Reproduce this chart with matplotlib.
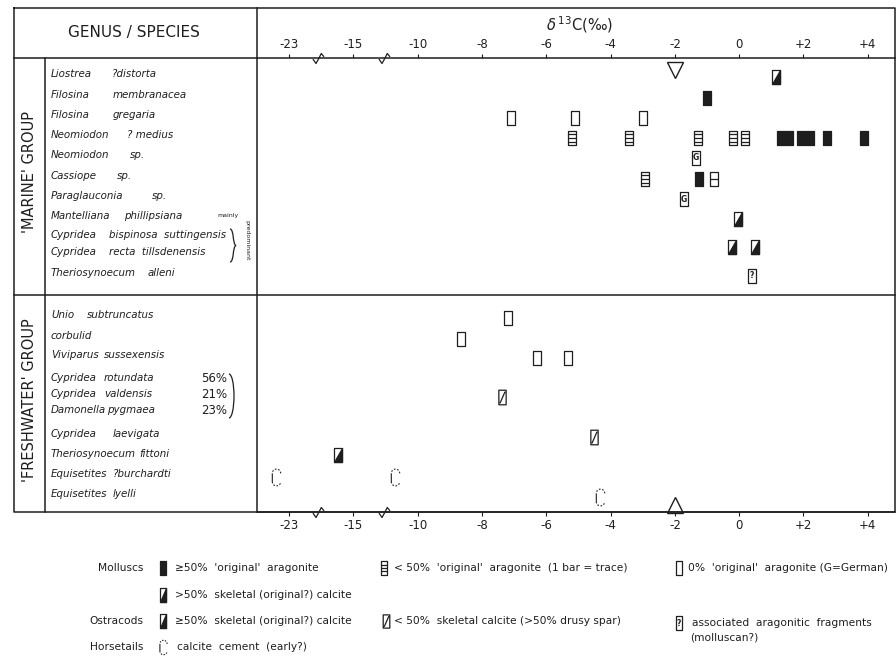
import numpy as np
import matplotlib
matplotlib.use('Agg')
import matplotlib.pyplot as plt
from matplotlib.path import Path
from matplotlib.patches import Arc, PathPatch

# ---- data -------------------------------------------------------------
marine_genus = ['Liostrea', 'Filosina', 'Filosina', 'Neomiodon', 'Neomiodon', 'Cassiope',
                'Paraglauconia', 'Mantelliana', 'Cypridea', 'Cypridea', 'Theriosynoecum']
marine_species = ['?distorta', 'membranacea', 'gregaria', '? medius', 'sp.', 'sp.',
                  'sp.', 'phillipsiana', 'bispinosa  suttingensis', 'recta  tillsdenensis', 'alleni']
fresh_genus = ['Unio', 'corbulid', 'Viviparus', 'Cypridea', 'Cypridea', 'Damonella',
               'Cypridea', 'Theriosynoecum', 'Equisetites', 'Equisetites']
fresh_species = ['subtruncatus', '', 'sussexensis', 'rotundata', 'valdensis', 'pygmaea',
                 'laevigata', 'fittoni', '?burchardti', 'lyelli']
fresh_pct = ['', '', '', '56%', '21%', '23%', '', '', '', '']

# (row, delta13C) for each symbol type
arag_high = [('Filosina membranacea', -1.0), ('Neomiodon ? medius', 1.29), ('Neomiodon ? medius', 1.56),
             ('Neomiodon ? medius', 1.93), ('Neomiodon ? medius', 2.21), ('Neomiodon ? medius', 2.74),
             ('Neomiodon ? medius', 3.89), ('Cassiope sp.', -1.24)]
arag_low = [('Neomiodon ? medius', -5.2), ('Neomiodon ? medius', -3.42), ('Neomiodon ? medius', -1.28),
            ('Neomiodon ? medius', -0.19), ('Neomiodon ? medius', 0.19), ('Cassiope sp.', -2.92)]
arag_trace = [('Cassiope sp.', -0.78)]
arag_none = [('Filosina gregaria', -7.09), ('Filosina gregaria', -5.1), ('Filosina gregaria', -2.99),
             ('Unio subtruncatus', -7.19), ('corbulid', -8.65),
             ('Viviparus sussexensis', -6.28), ('Viviparus sussexensis', -5.32)]
german = [('Neomiodon sp.', -1.35), ('Paraglauconia sp.', -1.71)]
skel_calcite = [('Liostrea ?distorta', 1.15), ('Mantelliana phillipsiana', -0.05),
                ('bispinosa/recta', -0.23), ('bispinosa/recta', 0.5),
                ('Theriosynoecum fittoni', -16.9)]
skel_low = [('rotundata group', -7.37), ('Cypridea laevigata', -4.51)]
fragments = [('Theriosynoecum alleni', 0.4)]
cement = [('Equisetites ?burchardti', -24.6), ('Equisetites ?burchardti', -11.8),
          ('Equisetites lyelli', -4.32)]
ref_value = -2.0

tick_vals = [-23, -15, -10, -8, -6, -4, -2, 0, 2, 4]
tick_labels = ['-23', '-15', '-10', '-8', '-6', '-4', '-2', '0', '+2', '+4']

# ---- layout (pixel coordinates of the 896x657 page) -------------------
marine_y = [74, 95, 115, 135, 155, 176, 196, 216, 235, 252, 273]
marine_sx = [112, 113, 113, 127, 130, 117, 152, 124, 109, 109, 148]
fresh_y = [315, 336, 355, 378, 394, 410, 434, 454, 474, 494]
fresh_sx = [87, 87, 104, 104, 104, 107, 113, 139, 113, 113]

row_y = {}
for g, s, y in zip(marine_genus + fresh_genus, marine_species + fresh_species, marine_y + fresh_y):
    row_y[(g + ' ' + s).strip()] = y + 3
row_y['bispinosa/recta'] = (marine_y[8] + marine_y[9]) / 2 + 3
row_y['rotundata group'] = fresh_y[4] + 3
row_y['Theriosynoecum fittoni'] = fresh_y[7] + 1

plt.rcParams['font.family'] = ['DejaVu Sans']
ink = '#1e1e1e'

fig = plt.figure(figsize=(8.96, 6.57), dpi=100)
bg = fig.add_axes([0, 0, 1, 1])
bg.set_xlim(0, 896)
bg.set_ylim(657, 0)
bg.axis('off')

L, R, T, B = 14, 895, 8, 512
HEAD, SPLIT, COL1, COL2 = 58, 295, 45, 257
lw = 1.1
bg.plot([L, R, R, L, L], [T, T, B, B, T], color=ink, lw=lw)
bg.plot([L, COL2], [HEAD, HEAD], color=ink, lw=lw)
bg.plot([COL2, COL2], [T, B], color=ink, lw=lw)
bg.plot([COL1, COL1], [HEAD, B], color=ink, lw=lw)
bg.plot([L, R], [SPLIT, SPLIT], color=ink, lw=lw)

bg.text(134, 32, 'GENUS / SPECIES', ha='center', va='center', fontsize=11, color=ink)
bg.text(30, 172, "'MARINE' GROUP", rotation=90, ha='center', va='center', fontsize=10.5, color=ink)
bg.text(30, 400, "'FRESHWATER' GROUP", rotation=90, ha='center', va='center', fontsize=10.5, color=ink)

for g, s, y, sx in zip(marine_genus + fresh_genus, marine_species + fresh_species,
                       marine_y + fresh_y, marine_sx + fresh_sx):
    bg.text(51, y, g, ha='left', va='center', fontsize=7.4, style='italic', color=ink)
    if s:
        bg.text(sx, y, s, ha='left', va='center', fontsize=7.4, style='italic', color=ink)
for p, y in zip(fresh_pct, fresh_y):
    if p:
        bg.text(227, y, p, ha='right', va='center', fontsize=8.5, color=ink)

bg.text(228, marine_y[7], 'mainly', ha='center', va='center', fontsize=4.5, color=ink)
bg.text(247, 240, 'predominant', rotation=270, ha='center', va='center', fontsize=4.5, color=ink)


def brace(x, y0, y1, w):
    ym = (y0 + y1) / 2
    verts = [(x, y0), (x + w * 0.7, y0), (x + w * 0.4, ym - 1), (x + w, ym),
             (x + w * 0.4, ym + 1), (x + w * 0.7, y1), (x, y1)]
    codes = [Path.MOVETO] + [Path.CURVE4] * 6
    bg.add_patch(PathPatch(Path(verts, codes), fc='none', ec=ink, lw=0.9))


brace(230, 229, 262, 6)
bg.add_patch(Arc((229, 396), 10, 44, theta1=-90, theta2=90, color=ink, lw=0.9))

# ---- marker shapes -----------------------------------------------------
M, LN, C = Path.MOVETO, Path.LINETO, Path.CLOSEPOLY
box_v = [(-0.5, -1), (0.5, -1), (0.5, 1), (-0.5, 1), (-0.5, -1)]
box_c = [M, LN, LN, LN, C]


def boxed(extra):
    v, c = list(box_v), list(box_c)
    for a, b in extra:
        v += [a, b]
        c += [M, LN]
    return Path(v, c)


box = Path(box_v, box_c)
bars3 = boxed([((-0.5, -0.5), (0.5, -0.5)), ((-0.5, 0), (0.5, 0)), ((-0.5, 0.5), (0.5, 0.5))])
bars1 = boxed([((-0.5, 0), (0.5, 0))])
slash = boxed([((-0.35, -0.8), (0.35, 0.8))])
half = Path([(-0.5, -1), (0.5, -1), (0.5, 1), (-0.5, -1)], [M, LN, LN, C])

t = np.linspace(0, 2 * np.pi, 97)
sx_ = 0.5 * np.cos(t)
sy_ = np.where(np.sin(t) >= 0, 0.5 + 0.5 * np.sin(t), -0.5 + 0.5 * np.sin(t))
dv, dc = [], []
for k in range(0, 96, 12):
    seg = list(zip(sx_[k:k + 7], sy_[k:k + 7]))
    dv += seg
    dc += [M] + [LN] * (len(seg) - 1)
dashed = Path(dv, dc)


def draw(axis, xs, ys, kind, ms=10.5):
    kw = dict(ls='none', mec=ink, mew=0.9, ms=ms, clip_on=False)
    if kind == 'high':
        axis.plot(xs, ys, marker=box, mfc=ink, **kw)
    elif kind == 'low':
        axis.plot(xs, ys, marker=bars3, mfc='white', **kw)
    elif kind == 'trace':
        axis.plot(xs, ys, marker=bars1, mfc='white', **kw)
    elif kind in ('none', 'german', 'frag'):
        axis.plot(xs, ys, marker=box, mfc='white', **kw)
        sym = {'german': 'G', 'frag': '?', 'none': ''}[kind]
        if sym:
            for x, y in zip(xs, ys):
                axis.text(x, y, sym, ha='center', va='center', fontsize=5.5,
                          fontweight='bold', color=ink)
    elif kind == 'skel':
        axis.plot(xs, ys, marker=box, mfc='white', **kw)
        axis.plot(xs, ys, marker=half, mfc=ink, **kw)
    elif kind == 'slash':
        axis.plot(xs, ys, marker=slash, mfc='white', **kw)
    elif kind == 'cement':
        kw['mew'] = 0.8
        kw['ms'] = ms * 1.15
        axis.plot(xs, ys, marker=dashed, mfc='none', **kw)


# ---- data panel with broken delta13C axis -------------------------------
def fwd(x):
    x = np.asarray(x, float)
    return np.where(x >= -10, x, np.where(x >= -15, -10 + (x + 10) * 0.4, -12 + (x + 15) * 0.25))


def inv(p):
    p = np.asarray(p, float)
    return np.where(p >= -10, p, np.where(p >= -12, -10 + (p + 10) / 0.4, -15 + (p + 12) / 0.25))


ax = fig.add_axes([COL2 / 896, 1 - B / 657, (R - COL2) / 896, (B - HEAD) / 657])
ax.set_xscale('function', functions=(fwd, inv))
ax.set_xlim(-27, 4.85)
ax.set_ylim(B, HEAD)
ax.patch.set_visible(False)
for side in ('left', 'right'):
    ax.spines[side].set_visible(False)
for side in ('top', 'bottom'):
    ax.spines[side].set_linewidth(lw)
    ax.spines[side].set_color(ink)
ax.set_yticks([])
ax.set_xticks(tick_vals)
ax.set_xticklabels(tick_labels)
ax.xaxis.set_minor_locator(matplotlib.ticker.NullLocator())
ax.tick_params(axis='x', top=True, labeltop=True, bottom=True, labelbottom=True,
               direction='out', length=3, width=0.8, pad=2, labelsize=8.5, colors=ink)

ax.text(-4.95, 25, r'$\delta^{\,13}$C(‰)', ha='center', va='center',
        fontsize=10.5, color=ink, clip_on=False)

brk = Path([(-1, -0.1), (-0.45, -0.9), (0.05, 0.0), (0.5, 0.9), (1, 0.3)], [M, LN, LN, LN, LN])
for bx in (-19.4, -12.6):
    ax.plot([bx, bx], [HEAD, B], ls='none', marker=brk, ms=8, mfc='none', mec=ink, mew=0.9,
            clip_on=False)

for data, kind in [(arag_high, 'high'), (arag_low, 'low'), (arag_trace, 'trace'),
                   (arag_none, 'none'), (german, 'german'), (skel_calcite, 'skel'),
                   (skel_low, 'slash'), (fragments, 'frag'), (cement, 'cement')]:
    xs = [v for _, v in data]
    ys = [row_y[r] for r, _ in data]
    draw(ax, xs, ys, kind)

ax.plot([ref_value], [69.5], ls='none', marker='v', ms=11, mfc='none', mec=ink, mew=1, clip_on=False)
ax.plot([ref_value], [505], ls='none', marker='^', ms=11, mfc='none', mec=ink, mew=1, clip_on=False)

# ---- legend --------------------------------------------------------------
fs = 7.7
rows_leg = [568, 595, 621, 647]
for name, y in zip(['Molluscs', 'Ostracods', 'Horsetails'], [rows_leg[0], rows_leg[2], rows_leg[3]]):
    bg.text(143, y, name, ha='right', va='center', fontsize=fs, color=ink)

draw(bg, [163], [rows_leg[0]], 'high', 9.5)
bg.text(175, rows_leg[0], "≥50%  'original'  aragonite", va='center', fontsize=fs, color=ink)
draw(bg, [384], [rows_leg[0]], 'low', 9.5)
bg.text(394, rows_leg[0], "< 50%  'original'  aragonite  (1 bar = trace)", va='center', fontsize=fs, color=ink)
draw(bg, [679], [rows_leg[0]], 'none', 9.5)
bg.text(688, rows_leg[0], "0%  'original'  aragonite (G=German)", va='center', fontsize=fs, color=ink)

draw(bg, [163], [rows_leg[1]], 'skel', 9.5)
bg.text(175, rows_leg[1], ">50%  skeletal (original?) calcite", va='center', fontsize=fs, color=ink)

draw(bg, [163], [rows_leg[2]], 'skel', 9.5)
bg.text(175, rows_leg[2], "≥50%  skeletal (original?) calcite", va='center', fontsize=fs, color=ink)
draw(bg, [386], [rows_leg[2]], 'slash', 9.5)
bg.text(394, rows_leg[2], "< 50%  skeletal calcite (>50% drusy spar)", va='center', fontsize=fs, color=ink)
draw(bg, [679], [rows_leg[2] + 2], 'frag', 9.5)
bg.text(692, rows_leg[2] + 2, "associated  aragonitic  fragments", va='center', fontsize=fs, color=ink)
bg.text(690, 638, "(molluscan?)", va='center', fontsize=fs, color=ink)

draw(bg, [163], [rows_leg[3]], 'cement', 9)
bg.text(177, rows_leg[3], "calcite  cement  (early?)", va='center', fontsize=fs, color=ink)

fig.savefig('out.png', dpi=100)
